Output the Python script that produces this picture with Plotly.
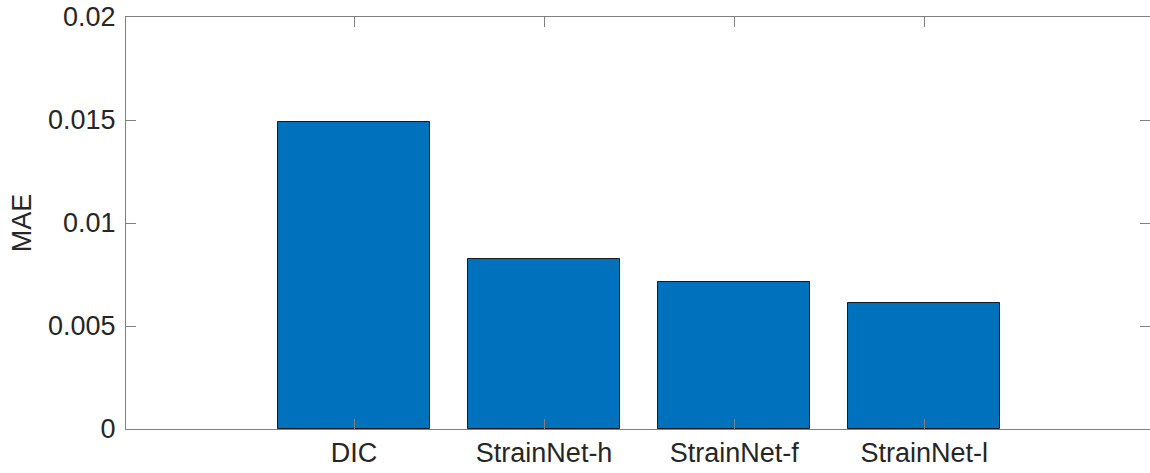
import plotly.graph_objects as go

# MAE of each method
methods = ["DIC", "StrainNet-h", "StrainNet-f", "StrainNet-l"]
mae = [0.01489, 0.00826, 0.00714, 0.00614]
positions = [1, 2, 3, 4]

y_ticks = [0, 0.005, 0.01, 0.015, 0.02]
y_tick_labels = ["0", "0.005", "0.01", "0.015", "0.02"]

font_family = "Liberation Sans, Arial, Helvetica, sans-serif"
font_size = 27
text_color = "#262626"
axis_color = "#808080"

fig = go.Figure()
fig.add_trace(go.Bar(
    x=positions,
    y=mae,
    width=0.8,
    marker=dict(color="#0072BD", line=dict(color="#1a1a1a", width=1)),
    showlegend=False,
))
# invisible trace that carries the right-hand y ticks
fig.add_trace(go.Scatter(x=[positions[0]], y=[0], yaxis="y2", mode="markers",
                         marker=dict(opacity=0), showlegend=False, hoverinfo="skip"))

fig.update_layout(
    width=1150,
    height=473,
    margin=dict(l=126, r=0, t=17, b=44),
    plot_bgcolor="white",
    paper_bgcolor="white",
    font=dict(family=font_family, size=font_size, color=text_color),
    xaxis=dict(
        range=[-0.2, 5.188],
        tickmode="array",
        tickvals=positions,
        ticktext=methods,
        ticks="inside",
        ticklen=10,
        tickcolor=axis_color,
        showline=True,
        linecolor=axis_color,
        linewidth=1,
        mirror="ticks",
        showgrid=False,
        zeroline=False,
        tickfont=dict(size=font_size, color=text_color),
    ),
    yaxis=dict(
        range=[0, 0.02],
        tickmode="array",
        tickvals=y_ticks,
        ticktext=y_tick_labels,
        ticks="inside",
        ticklen=10,
        tickcolor=axis_color,
        showline=True,
        linecolor=axis_color,
        linewidth=1,
        showgrid=False,
        zeroline=False,
        ticklabelstandoff=4,
        title=dict(text="MAE", font=dict(size=font_size, color=text_color), standoff=8),
        tickfont=dict(size=font_size, color=text_color),
    ),
    yaxis2=dict(
        range=[0, 0.02],
        overlaying="y",
        side="right",
        tickmode="array",
        tickvals=y_ticks,
        ticks="inside",
        ticklen=10,
        tickcolor=axis_color,
        showticklabels=False,
        showline=False,
        showgrid=False,
        zeroline=False,
    ),
    bargap=0,
)

fig.write_html("out.html")
